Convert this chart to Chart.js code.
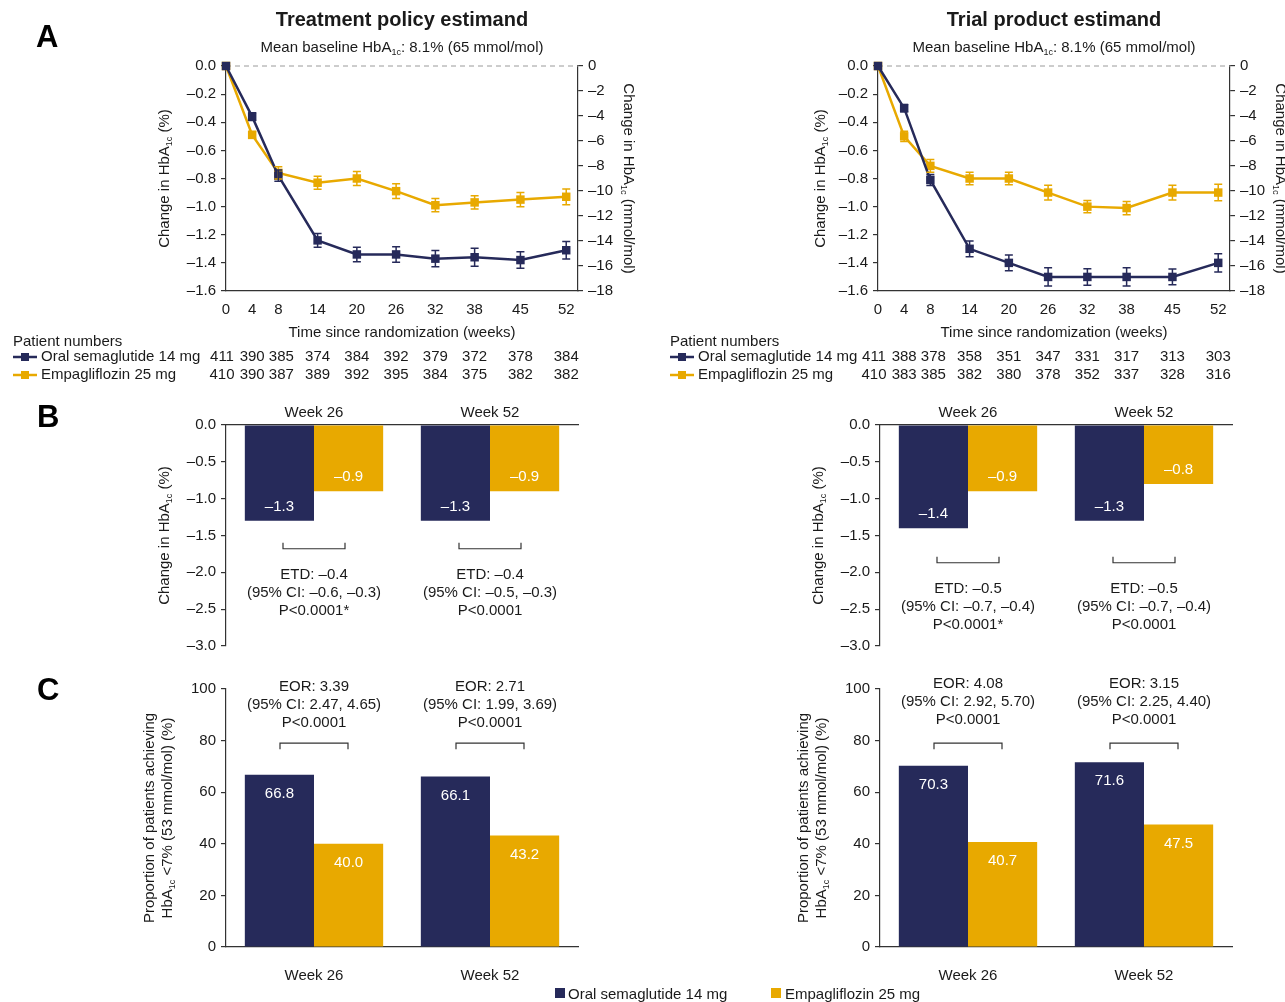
<!DOCTYPE html>
<html>
<head>
<meta charset="utf-8">
<script src="https://cdn.jsdelivr.net/npm/chart.js@4.4.1/dist/chart.umd.min.js"></script>
<style>
  body { margin: 0; background: #fff; width: 1285px; height: 1002px; position: relative; overflow: hidden;
         font-family: "Liberation Sans", Arial, Helvetica, sans-serif; color: #1a1a1a; }
  canvas { position: absolute; }
  .key { position: absolute; top: 985px; font-size: 15px; line-height: 17px; }
  .sw { position: absolute; width: 10px; height: 10px; top: 988px; }
</style>
</head>
<body>
<canvas id="lineTP" width="650" height="390" style="left:0;top:0"></canvas>
<canvas id="lineTR" width="633" height="390" style="left:652px;top:0"></canvas>
<canvas id="chgTP" width="650" height="265" style="left:0;top:395px"></canvas>
<canvas id="chgTR" width="631" height="265" style="left:654px;top:395px"></canvas>
<canvas id="propTP" width="650" height="342" style="left:0;top:660px"></canvas>
<canvas id="propTR" width="631" height="342" style="left:654px;top:660px"></canvas>

<div class="sw" style="left:555px;background:#262a5a"></div>
<div class="key" style="left:568px">Oral semaglutide 14 mg</div>
<div class="sw" style="left:771px;background:#e8a900"></div>
<div class="key" style="left:785px">Empagliflozin 25 mg</div>

<script>
// panel A: change over time
const weeks = [0, 4, 8, 14, 20, 26, 32, 38, 45, 52];
const semaTP = [0, -0.36, -0.78, -1.24, -1.34, -1.34, -1.37, -1.36, -1.38, -1.31];
const semaTPErr = [0, 0.027, 0.04, 0.049, 0.052, 0.055, 0.058, 0.064, 0.059, 0.062];
const empaTP = [0, -0.49, -0.76, -0.83, -0.80, -0.89, -0.99, -0.97, -0.95, -0.93];
const empaTPErr = [0, 0.024, 0.044, 0.046, 0.05, 0.052, 0.047, 0.047, 0.05, 0.056];
const semaTR = [0, -0.30, -0.81, -1.30, -1.40, -1.50, -1.50, -1.50, -1.50, -1.40];
const semaTRErr = [0, 0.026, 0.039, 0.056, 0.056, 0.065, 0.059, 0.065, 0.056, 0.065];
const empaTR = [0, -0.50, -0.71, -0.80, -0.80, -0.90, -1.00, -1.01, -0.90, -0.90];
const empaTRErr = [0, 0.036, 0.046, 0.044, 0.044, 0.052, 0.044, 0.047, 0.052, 0.059];
const nSemaTP = [411, 390, 385, 374, 384, 392, 379, 372, 378, 384];
const nEmpaTP = [410, 390, 387, 389, 392, 395, 384, 375, 382, 382];
const nSemaTR = [411, 388, 378, 358, 351, 347, 331, 317, 313, 303];
const nEmpaTR = [410, 383, 385, 382, 380, 378, 352, 337, 328, 316];

// panels B and C
const visits = ['Week 26', 'Week 52'];
const chgSemaTP = [-1.3, -1.3];
const chgEmpaTP = [-0.9, -0.9];
const chgSemaTR = [-1.4, -1.3];
const chgEmpaTR = [-0.9, -0.8];
const etdTP = [['ETD: \u20130.4', '(95% CI: \u20130.6, \u20130.3)', 'P<0.0001*'],
               ['ETD: \u20130.4', '(95% CI: \u20130.5, \u20130.3)', 'P<0.0001']];
const etdTR = [['ETD: \u20130.5', '(95% CI: \u20130.7, \u20130.4)', 'P<0.0001*'],
               ['ETD: \u20130.5', '(95% CI: \u20130.7, \u20130.4)', 'P<0.0001']];
const propSemaTP = [66.8, 66.1];
const propEmpaTP = [40.0, 43.2];
const propSemaTR = [70.3, 71.6];
const propEmpaTR = [40.7, 47.5];
const eorTP = [['EOR: 3.39', '(95% CI: 2.47, 4.65)', 'P<0.0001'],
               ['EOR: 2.71', '(95% CI: 1.99, 3.69)', 'P<0.0001']];
const eorTR = [['EOR: 4.08', '(95% CI: 2.92, 5.70)', 'P<0.0001'],
               ['EOR: 3.15', '(95% CI: 2.25, 4.40)', 'P<0.0001']];

const NAVY = '#262a5a', GOLD = '#e8a900', AX = '#333', TXT = '#1a1a1a';
const FONT = '"Liberation Sans", Arial, Helvetica, sans-serif';
Chart.defaults.font.family = FONT;
Chart.defaults.font.size = 15;
Chart.defaults.color = TXT;

// the first three patient-number columns are spread a little, as in the figure
const numNudge = [-4, 0, 3, 0, 0, 0, 0, 0, 0, 0];

function dash(v, d) {
  const r = Math.abs(v) < 1e-9 ? 0 : v;
  return (r < 0 ? '\u2013' : '') + Math.abs(r).toFixed(d);
}

// text with {subscript} parts, centred on x,y
function rich(ctx, str, x, y, rot, size, bold) {
  const parts = str.split(/(\{[^}]*\})/).filter(s => s);
  const f = sub => (bold ? 'bold ' : '') + (sub ? Math.round(size * 0.62) : size) + 'px ' + FONT;
  let total = 0;
  const ws = parts.map(p => {
    const sub = p[0] === '{';
    ctx.font = f(sub);
    const w = ctx.measureText(sub ? p.slice(1, -1) : p).width;
    total += w;
    return w;
  });
  ctx.save();
  ctx.translate(x, y);
  ctx.rotate(rot || 0);
  ctx.textBaseline = 'middle';
  ctx.textAlign = 'left';
  ctx.fillStyle = TXT;
  let cx = -total / 2;
  parts.forEach((p, i) => {
    const sub = p[0] === '{';
    ctx.font = f(sub);
    ctx.fillText(sub ? p.slice(1, -1) : p, cx, sub ? size * 0.3 : 0);
    cx += ws[i];
  });
  ctx.restore();
}

function letter(ctx, l, x, y) {
  ctx.save();
  ctx.font = 'bold 31px ' + FONT;
  ctx.fillStyle = '#000';
  ctx.textAlign = 'left';
  ctx.textBaseline = 'alphabetic';
  ctx.fillText(l, x, y);
  ctx.restore();
}

function yAxis(min, max, step, dec, width, pos) {
  return {
    position: pos || 'left', min: min, max: max,
    afterFit: s => { s.width = width; },
    grid: { drawOnChartArea: false, tickLength: 5, color: AX, lineWidth: 1.2 },
    border: { color: AX, width: 1.2 },
    ticks: { stepSize: step, padding: 5, callback: v => dash(v, dec) }
  };
}

function lineChart(id, p) {
  const extras = {
    id: 'lineExtras',
    beforeDatasetsDraw(chart) {
      const { ctx, chartArea: a, scales: { y } } = chart;
      const py = y.getPixelForValue(0);
      ctx.save();
      ctx.strokeStyle = '#9a9a9a';
      ctx.lineWidth = 1;
      ctx.setLineDash([5, 4]);
      ctx.beginPath(); ctx.moveTo(a.left, py); ctx.lineTo(a.right, py); ctx.stroke();
      ctx.restore();
    },
    afterDatasetsDraw(chart) {
      const { ctx, scales: { x, y } } = chart;
      [[p.empa, p.empaErr, GOLD], [p.sema, p.semaErr, NAVY]].forEach(([vals, errs, col]) => {
        ctx.save();
        ctx.strokeStyle = col;
        ctx.lineWidth = 1.5;
        weeks.forEach((w, i) => {
          if (!errs[i]) return;
          const px = x.getPixelForValue(w);
          const t = y.getPixelForValue(vals[i] + errs[i]);
          const b = y.getPixelForValue(vals[i] - errs[i]);
          ctx.beginPath();
          ctx.moveTo(px, t); ctx.lineTo(px, b);
          ctx.moveTo(px - 4, t); ctx.lineTo(px + 4, t);
          ctx.moveTo(px - 4, b); ctx.lineTo(px + 4, b);
          ctx.stroke();
        });
        ctx.restore();
      });
    },
    afterDraw(chart) {
      const { ctx, chartArea: a, scales: { x } } = chart;
      const cx = (a.left + a.right) / 2, cy = (a.top + a.bottom) / 2;
      rich(ctx, p.title, cx, 20, 0, 20, true);
      rich(ctx, 'Mean baseline HbA{1c}: 8.1% (65 mmol/mol)', cx, 48, 0, 15);
      rich(ctx, 'Change in HbA{1c} (%)', a.left - p.ttl, cy, -Math.PI / 2, 15);
      rich(ctx, 'Change in HbA{1c} (mmol/mol)', a.right + 50, cy, Math.PI / 2, 15);
      rich(ctx, 'Time since randomization (weeks)', cx, 333, 0, 15);

      ctx.save();
      ctx.font = '15px ' + FONT;
      ctx.textBaseline = 'middle';
      ctx.fillStyle = TXT;
      ctx.textAlign = 'left';
      ctx.fillText('Patient numbers', p.pnX, 342);
      [[p.nSema, NAVY, 'Oral semaglutide 14 mg', 357], [p.nEmpa, GOLD, 'Empagliflozin 25 mg', 375]].forEach(([ns, col, lab, yy]) => {
        ctx.strokeStyle = col;
        ctx.lineWidth = 2.5;
        ctx.beginPath(); ctx.moveTo(p.pnX, yy); ctx.lineTo(p.pnX + 24, yy); ctx.stroke();
        ctx.fillStyle = col;
        ctx.fillRect(p.pnX + 8, yy - 4, 8, 8);
        ctx.fillStyle = TXT;
        ctx.textAlign = 'left';
        ctx.fillText(lab, p.pnX + 28, yy);
        ctx.textAlign = 'center';
        ns.forEach((n, i) => ctx.fillText(String(n), x.getPixelForValue(weeks[i]) + numNudge[i], yy));
      });
      ctx.restore();
      if (p.letter) letter(ctx, p.letter, 36, 47);
    }
  };

  const ds = (label, vals, col) => ({
    label: label,
    data: weeks.map((w, i) => ({ x: w, y: vals[i] })),
    borderColor: col, backgroundColor: col, borderWidth: 2.5,
    pointStyle: 'rect', pointRadius: 6, pointBorderWidth: 0,
    tension: 0, clip: false, yAxisID: 'y'
  });

  new Chart(document.getElementById(id), {
    type: 'line',
    data: { datasets: [ds('Oral semaglutide 14 mg', p.sema, NAVY), ds('Empagliflozin 25 mg', p.empa, GOLD)] },
    options: {
      responsive: false, animation: false,
      layout: { padding: { left: 166, right: p.padR, top: 66, bottom: 69 } },
      plugins: { legend: { display: false }, tooltip: { enabled: false } },
      scales: {
        x: {
          type: 'linear', min: 0, max: 53.8,
          afterBuildTicks: s => { s.ticks = weeks.map(v => ({ value: v })); },
          afterFit: s => { s.height = 30; },
          grid: { display: false },
          border: { display: true, color: AX, width: 1.2 },
          ticks: { padding: 2, autoSkip: false, maxRotation: 0, callback: v => String(v) }
        },
        y: yAxis(-1.6, 0, 0.2, 1, 60),
        y2: yAxis(-18, 0, 2, 0, 50, 'right')
      }
    },
    plugins: [extras]
  });
}

function barChart(id, p) {
  const extras = {
    id: 'barExtras',
    afterDatasetsDraw(chart) {
      const { ctx } = chart;
      ctx.save();
      ctx.font = '15px ' + FONT;
      ctx.fillStyle = '#fff';
      ctx.textAlign = 'center';
      ctx.textBaseline = 'middle';
      chart.data.datasets.forEach((d, di) => {
        chart.getDatasetMeta(di).data.forEach((el, i) => {
          ctx.fillText(dash(d.data[i], 1), el.x, el.y + p.lblOff);
        });
      });
      ctx.restore();
    },
    afterDraw(chart) {
      const { ctx, chartArea: a, scales: { x, y } } = chart;
      const cy = (a.top + a.bottom) / 2;
      if (p.yTitle.length === 1) {
        rich(ctx, p.yTitle[0], a.left - 61, cy, -Math.PI / 2, 15);
      } else {
        rich(ctx, p.yTitle[0], a.left - 76, cy, -Math.PI / 2, 15);
        rich(ctx, p.yTitle[1], a.left - 58, cy, -Math.PI / 2, 15);
      }
      const by = y.getPixelForValue(p.bracket);
      ctx.save();
      ctx.strokeStyle = AX;
      ctx.lineWidth = 1.2;
      ctx.font = '15px ' + FONT;
      ctx.fillStyle = TXT;
      ctx.textAlign = 'center';
      ctx.textBaseline = 'middle';
      visits.forEach((v, i) => {
        const cx = x.getPixelForValue(i);
        const hw = p.half, tk = p.tick;
        ctx.beginPath();
        ctx.moveTo(cx - hw, by + tk); ctx.lineTo(cx - hw, by);
        ctx.lineTo(cx + hw, by); ctx.lineTo(cx + hw, by + tk);
        ctx.stroke();
        p.texts[i].forEach((t, k) => ctx.fillText(t, cx, by + p.textOff + k * 18));
      });
      ctx.restore();
      if (p.letter) letter(ctx, p.letter, 37, p.letterY);
    }
  };

  new Chart(document.getElementById(id), {
    type: 'bar',
    data: {
      labels: visits,
      datasets: [
        { label: 'Oral semaglutide 14 mg', data: p.sema, backgroundColor: NAVY },
        { label: 'Empagliflozin 25 mg', data: p.empa, backgroundColor: GOLD }
      ]
    },
    options: {
      responsive: false, animation: false,
      categoryPercentage: 0.786, barPercentage: 1,
      layout: { padding: p.pad },
      plugins: { legend: { display: false }, tooltip: { enabled: false } },
      scales: {
        x: {
          position: p.xPos,
          afterFit: s => { s.height = p.xH; },
          grid: { display: false },
          border: { display: true, color: AX, width: 1.2 },
          ticks: { padding: p.xPad }
        },
        y: yAxis(p.min, p.max, p.step, p.dec, 60)
      }
    },
    plugins: [extras]
  });
}

lineChart('lineTP', { title: 'Treatment policy estimand', sema: semaTP, semaErr: semaTPErr, empa: empaTP, empaErr: empaTPErr,
  nSema: nSemaTP, nEmpa: nEmpaTP, pnX: 13, padR: 22, ttl: 61, letter: 'A' });
lineChart('lineTR', { title: 'Trial product estimand', sema: semaTR, semaErr: semaTRErr, empa: empaTR, empaErr: empaTRErr,
  nSema: nSemaTR, nEmpa: nEmpaTR, pnX: 18, padR: 5, ttl: 57 });

const chgCommon = { xPos: 'top', xPad: -5, xH: 30, min: -3, max: 0, step: 0.5, dec: 1, lblOff: -14, half: 31, tick: -6, textOff: 26,
  yTitle: ['Change in HbA{1c} (%)'] };
barChart('chgTP', Object.assign({}, chgCommon, { sema: chgSemaTP, empa: chgEmpaTP, texts: etdTP, bracket: -1.68,
  pad: { left: 166, right: 72, top: 0, bottom: 14 }, letter: 'B', letterY: 32 }));
barChart('chgTR', Object.assign({}, chgCommon, { sema: chgSemaTR, empa: chgEmpaTR, texts: etdTR, bracket: -1.87,
  pad: { left: 166, right: 53, top: 0, bottom: 14 } }));

const propCommon = { xPos: 'bottom', xPad: 12, xH: 40, min: 0, max: 100, step: 20, dec: 0, lblOff: 19, half: 34, tick: 6, bracket: 79,
  yTitle: ['Proportion of patients achieving', 'HbA{1c} <7% (53 mmol/mol) (%)'] };
barChart('propTP', Object.assign({}, propCommon, { sema: propSemaTP, empa: propEmpaTP, texts: eorTP, textOff: -56,
  pad: { left: 166, right: 72, top: 29, bottom: 15 }, letter: 'C', letterY: 40 }));
barChart('propTR', Object.assign({}, propCommon, { sema: propSemaTR, empa: propEmpaTR, texts: eorTR, textOff: -59,
  pad: { left: 166, right: 53, top: 29, bottom: 15 } }));
</script>
</body>
</html>
